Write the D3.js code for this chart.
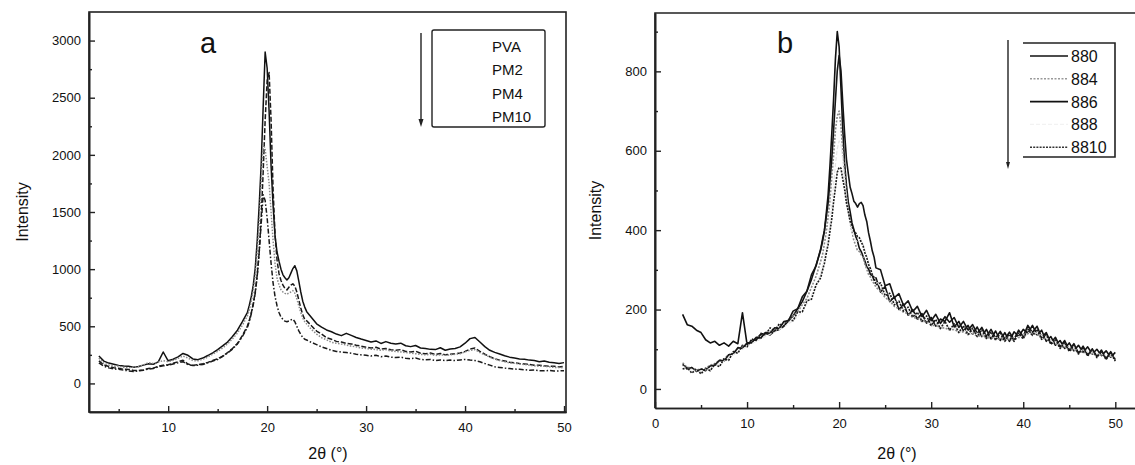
<!DOCTYPE html>
<html><head><meta charset="utf-8">
<script src="https://cdn.jsdelivr.net/npm/d3@7"></script>
<style>
body{margin:0;background:#fff;}
svg{display:block;}
text{font-family:"Liberation Sans",Arial,sans-serif;fill:#111;}
</style>
</head><body>
<svg id="chart" width="1135" height="465"></svg>
<script>
// ---------- DATA ----------
const angles = [3,3.5,4,4.5,5,5.5,6,6.5,7,7.5,8,8.5,9,9.5,10,10.5,11,11.5,12,12.5,13,13.5,14,14.5,15,15.5,16,16.5,17,17.5,
18,18.2,18.4,18.6,18.8,19,19.2,19.4,19.6,19.8,20,20.2,20.4,20.6,20.8,21,21.2,21.4,21.6,21.8,22,22.2,22.4,22.6,22.8,23,23.2,23.4,23.6,23.8,
24,24.5,25,25.5,26,26.5,27,27.5,28,28.5,29,29.5,30,30.5,31,31.5,32,32.5,33,33.5,34,34.5,35,35.5,36,36.5,37,37.5,38,38.5,39,39.5,40,40.5,41,41.5,42,42.5,43,43.5,44,44.5,45,45.5,46,46.5,47,47.5,48,48.5,49,49.5,50];

// panel a
const seriesNamesA = ["PVA","PM2","PM4","PM10"];
const PVA = [240,195,178,168,158,152,150,142,148,160,172,168,188,275,198,212,232,262,246,214,208,222,244,268,296,328,362,410,466,540,
620,685,760,860,1010,1250,1560,1920,2420,2900,2760,2380,1900,1560,1290,1150,1070,1000,950,925,905,925,965,1005,1030,985,895,800,720,668,
628,575,522,492,468,452,432,418,438,420,402,388,376,362,372,350,366,352,346,352,330,322,332,310,306,298,296,312,290,302,306,320,352,392,402,362,322,290,272,258,242,230,222,214,212,204,200,190,196,186,180,174,182];
const PM2 = [198,162,148,138,132,124,122,114,112,118,130,134,150,160,164,176,190,202,170,158,164,172,184,200,216,238,270,306,350,420,
500,552,618,700,800,950,1150,1450,1850,2300,2650,2720,2300,1700,1300,1080,960,900,860,830,818,842,860,872,852,800,730,660,600,560,
548,502,458,432,400,386,368,362,350,346,334,326,316,310,316,300,306,294,290,296,280,276,282,264,260,266,254,262,250,256,260,266,280,300,310,280,256,234,216,204,196,186,180,174,170,166,160,160,154,150,150,144,150];
const PM4 = [222,176,162,150,152,140,136,142,146,162,182,174,186,200,190,202,220,240,222,200,198,212,230,256,280,310,346,390,440,510,
590,642,720,812,940,1150,1400,1750,2100,2050,1900,1750,1500,1250,1050,920,862,820,800,788,780,792,800,812,790,740,680,620,572,540,
520,470,432,400,382,360,352,344,336,326,320,310,306,300,296,290,296,284,280,276,270,266,260,254,250,256,244,250,246,250,256,260,276,290,296,270,250,230,214,200,190,180,176,170,166,160,154,150,150,146,140,140,136];
const PM10 = [180,150,136,126,124,116,110,104,110,116,126,130,146,154,160,170,180,190,164,156,160,166,180,196,210,236,266,300,346,410,
490,540,610,690,790,940,1150,1400,1650,1600,1450,1250,1050,880,760,680,620,580,560,545,540,546,556,562,540,500,460,430,402,386,
380,358,340,320,306,290,280,274,270,264,256,250,246,240,246,234,240,230,226,230,220,216,222,210,206,210,200,206,200,204,200,206,210,204,200,190,174,160,146,140,134,130,126,124,120,116,118,112,110,114,108,110,112];

// panel b
const seriesNamesB = ["880","884","886","888","8810"];
const s880 = [188,162,158,148,142,124,116,120,110,116,108,120,114,192,112,122,124,138,140,136,146,150,158,172,184,202,220,246,276,312,
350,372,398,442,488,560,642,730,832,900,862,758,652,568,512,470,446,418,402,384,372,354,346,334,322,308,302,288,286,274,
280,244,258,220,232,200,214,186,200,176,190,166,180,158,176,170,192,156,170,146,160,138,156,132,150,126,146,122,142,120,144,132,150,140,160,136,148,120,132,110,122,102,116,96,110,92,106,88,100,84,96,80,92];
const s884 = [66,54,54,48,50,52,60,64,72,76,86,90,102,106,116,118,130,132,142,144,152,156,166,170,184,194,212,228,256,284,
322,338,366,394,432,474,532,588,652,688,700,662,598,542,488,452,418,396,374,362,348,346,338,332,314,302,288,282,270,266,
256,246,230,222,208,202,193,190,180,178,170,170,160,160,153,154,148,150,143,144,138,139,133,134,128,130,124,126,123,125,123,130,130,140,138,138,128,126,116,114,106,106,98,99,92,94,88,90,84,86,80,82,76];
const s886 = [62,50,54,44,50,46,58,60,72,70,86,88,104,102,116,116,130,128,142,140,154,152,170,172,196,202,232,246,288,310,
353,377,398,432,468,522,578,652,728,802,840,802,718,642,578,542,508,492,473,467,458,467,470,462,438,422,393,372,348,332,
305,300,260,265,230,240,210,222,195,208,182,198,172,188,165,182,168,180,155,170,148,162,140,155,132,150,128,145,126,143,125,148,132,160,142,158,130,142,116,130,106,122,98,114,90,108,85,101,82,98,76,94,74];
const s888 = [58,50,48,46,44,48,52,58,64,70,78,86,94,100,108,114,120,126,132,138,143,150,156,164,172,182,196,214,236,262,
292,310,330,355,385,420,465,515,565,605,625,615,575,525,480,445,420,400,385,375,370,372,375,365,350,335,320,305,292,282,
272,258,244,232,222,212,204,196,190,184,178,174,168,164,160,158,156,152,150,148,145,142,140,137,135,133,130,129,128,128,129,132,136,142,144,140,134,128,121,116,112,108,104,101,98,96,94,91,89,87,85,83,81];
const s8810 = [50,54,40,50,38,52,46,62,56,76,72,94,90,110,106,126,122,140,136,154,146,164,158,176,172,194,194,222,226,262,
280,299,316,341,363,396,428,471,508,546,558,556,528,502,468,446,423,411,398,393,383,381,370,361,343,331,313,303,288,281,
262,267,235,241,212,221,196,206,181,193,170,184,160,175,152,170,148,164,142,159,137,153,132,149,127,144,123,140,120,138,120,141,126,151,135,150,125,137,112,125,102,117,94,110,88,105,83,100,79,95,74,91,70];

// tick labels
const xTicksA = [10,20,30,40,50];
const xMinorA = [5,15,25,35,45];
const yTicksA = [0,500,1000,1500,2000,2500,3000];
const yMinorA = [-250,250,750,1250,1750,2250,2750,3250];
const xTicksB = [0,10,20,30,40,50];
const xMinorB = [5,15,25,35,45];
const yTicksB = [0,200,400,600,800];
const yMinorB = [100,300,500,700,900];

// ---------- DRAWING ----------
const svg = d3.select("#chart");

function drawPanel(cfg){
  const g = svg.append("g");
  const x = d3.scaleLinear().domain(cfg.xDomain).range([cfg.left, cfg.right]);
  const y = d3.scaleLinear().domain(cfg.yDomain).range([cfg.bottom, cfg.top]);

  const line = d3.line().x((d,i)=>x(angles[i])).y(d=>y(d));
  cfg.series.forEach(s=>{
    g.append("path").datum(s.values)
      .attr("d", line)
      .attr("fill","none")
      .attr("stroke", s.color)
      .attr("stroke-width", s.width)
      .attr("stroke-dasharray", s.dash)
      .attr("stroke-linejoin","round");
  });

  if (cfg.fullFrame){
    g.append("rect").attr("x",cfg.left).attr("y",cfg.top)
      .attr("width",cfg.right-cfg.left).attr("height",cfg.bottom-cfg.top)
      .attr("fill","none").attr("stroke","#222").attr("stroke-width",1.6);
  } else {
    g.append("path").attr("d",`M${cfg.left},${cfg.bottom}V${cfg.top}H${cfg.right}`)
      .attr("fill","none").attr("stroke","#222").attr("stroke-width",1.6);
  }

  const styleAxis = sel => {
    sel.select(".domain").attr("stroke","#222").attr("stroke-width",1.6);
    sel.selectAll(".tick line").attr("stroke","#222").attr("stroke-width",1.4);
    sel.selectAll(".tick text").attr("font-size",13).attr("fill","#000")
      .attr("font-family",'"Liberation Sans",Arial,sans-serif');
  };

  g.append("g").attr("transform",`translate(0,${cfg.bottom})`)
    .call(d3.axisBottom(x).tickValues(cfg.xTicks).tickSizeInner(-6).tickSizeOuter(0).tickPadding(11).tickFormat(d3.format("d")))
    .call(styleAxis);
  g.append("g").attr("transform",`translate(0,${cfg.bottom})`)
    .call(d3.axisBottom(x).tickValues(cfg.xMinor).tickSizeInner(-3).tickSizeOuter(0).tickFormat(""))
    .call(styleAxis);
  g.append("g").attr("transform",`translate(${cfg.left},0)`)
    .call(d3.axisLeft(y).tickValues(cfg.yTicks).tickSizeInner(-6).tickSizeOuter(0).tickPadding(8).tickFormat(d3.format("d")))
    .call(styleAxis);
  g.append("g").attr("transform",`translate(${cfg.left},0)`)
    .call(d3.axisLeft(y).tickValues(cfg.yMinor.filter(v=>v>cfg.yDomain[0]&&v<cfg.yDomain[1])).tickSizeInner(-3).tickSizeOuter(0).tickFormat(""))
    .call(styleAxis);

  g.append("text").attr("x",cfg.xTitleX).attr("y",459).attr("text-anchor","middle")
    .attr("font-size",16).text("2θ (°)");
  g.append("text").attr("transform",`translate(${cfg.yTitleX},${(cfg.top+cfg.bottom)/2}) rotate(-90)`)
    .attr("text-anchor","middle").attr("font-size",16).text("Intensity");
  g.append("text").attr("x",cfg.tagX).attr("y",53).attr("font-size",29).text(cfg.tag);

  return {g,x,y};
}

// panel a
drawPanel({
  left:89,right:566,top:12,bottom:412,
  xDomain:[2.0,50.2], yDomain:[-250,3250],
  xTicks:xTicksA, xMinor:xMinorA, yTicks:yTicksA, yMinor:yMinorA,
  fullFrame:true, xTitleX:328, yTitleX:28, tag:"a", tagX:200,
  series:[
    {values:PVA,  color:"#111", width:1.5, dash:null},
    {values:PM2,  color:"#1a1a1a", width:1.5, dash:"5,2"},
    {values:PM4,  color:"#8a8a8a", width:1.5, dash:"1.5,1.5"},
    {values:PM10, color:"#1a1a1a", width:1.5, dash:"5,2,1.5,2"}
  ]
});

// legend a
(function(){
  const g = svg.append("g");
  g.append("rect").attr("x",432).attr("y",30).attr("width",113).attr("height",97)
    .attr("rx",2).attr("fill","#fff").attr("stroke","#222").attr("stroke-width",1.4);
  g.append("line").attr("x1",421).attr("y1",33).attr("x2",421).attr("y2",122)
    .attr("stroke","#222").attr("stroke-width",1.4);
  g.append("path").attr("d","M418.5,119L421,127L423.5,119Z").attr("fill","#222");
  seriesNamesA.forEach((n,i)=>{
    g.append("text").attr("x",492).attr("y",52+i*23.3).attr("font-size",15).text(n);
  });
})();

// panel b
drawPanel({
  left:655,right:1142,top:13,bottom:408,
  xDomain:[0,52.9], yDomain:[-48,947],
  xTicks:xTicksB, xMinor:xMinorB, yTicks:yTicksB, yMinor:yMinorB,
  fullFrame:false, xTitleX:897, yTitleX:601, tag:"b", tagX:777,
  series:[
    {values:s880,  color:"#111", width:1.6, dash:null},
    {values:s884,  color:"#8a8a8a", width:1.6, dash:"2,1.5"},
    {values:s886,  color:"#151515", width:1.6, dash:null},
    {values:s888,  color:"#e6e6e6", width:1.2, dash:"4,2"},
    {values:s8810, color:"#1a1a1a", width:1.6, dash:"2,1.2"}
  ]
});

// legend b
(function(){
  const g = svg.append("g");
  g.append("path").attr("d","M1023,43H1115V157H1023").attr("fill","none")
    .attr("stroke","#222").attr("stroke-width",1.6);
  g.append("line").attr("x1",1008).attr("y1",40).attr("x2",1008).attr("y2",164)
    .attr("stroke","#222").attr("stroke-width",1.4);
  g.append("path").attr("d","M1006,162L1008,169L1010,162Z").attr("fill","#222");
  const styles = [
    {color:"#111",dash:null,w:1.6},
    {color:"#999",dash:"2,1.5",w:1.6},
    {color:"#111",dash:null,w:1.6},
    {color:"#f2f2f2",dash:"4,2",w:1.2},
    {color:"#333",dash:"2,1.2",w:1.6}
  ];
  seriesNamesB.forEach((n,i)=>{
    const cy = 56 + i*22.8;
    g.append("line").attr("x1",1030).attr("x2",1068).attr("y1",cy).attr("y2",cy)
      .attr("stroke",styles[i].color).attr("stroke-width",styles[i].w).attr("stroke-dasharray",styles[i].dash);
    g.append("text").attr("x",1071).attr("y",cy+6).attr("font-size",16).text(n);
  });
})();
</script>
</body></html>
